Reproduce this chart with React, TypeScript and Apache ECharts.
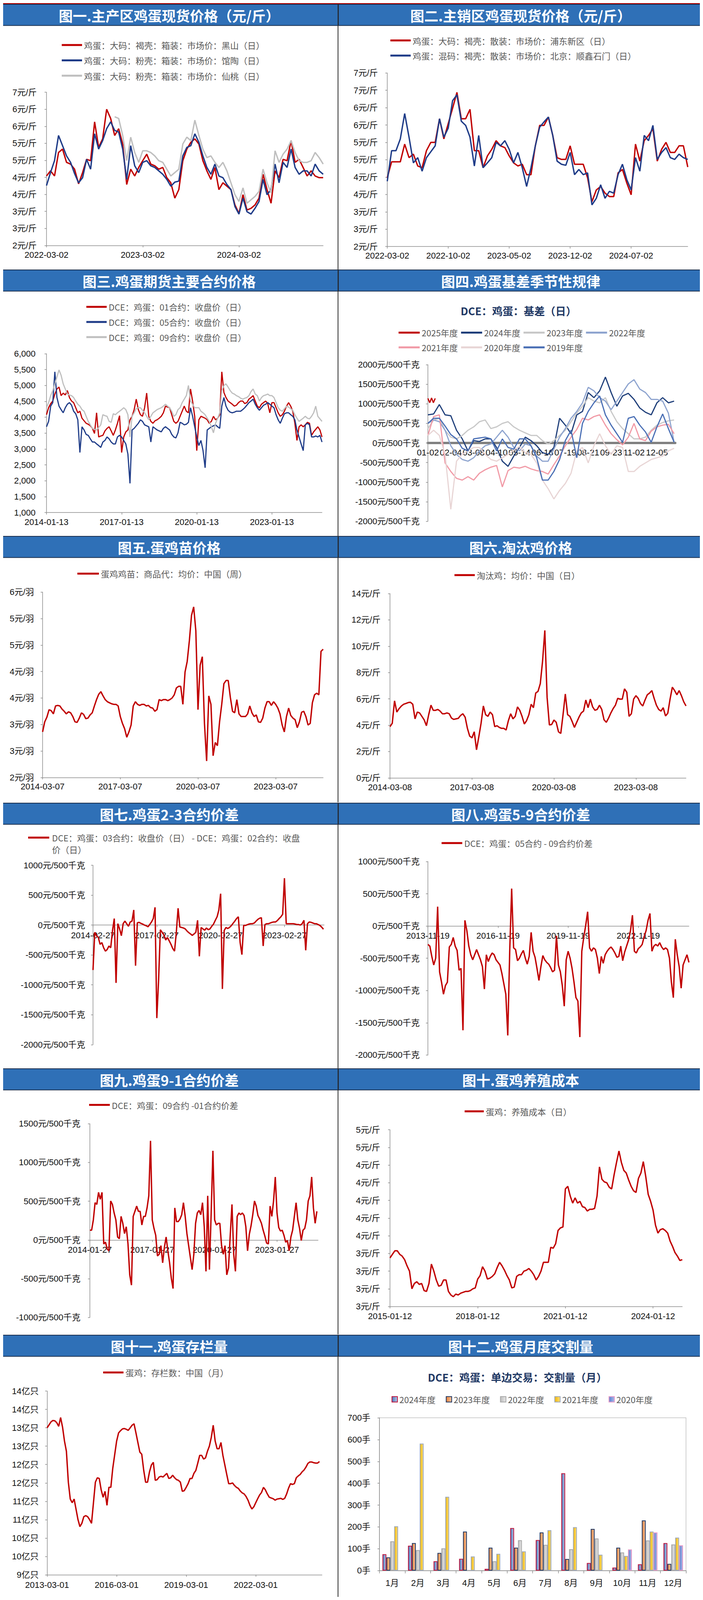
import React, { useEffect, useRef } from "react";
import * as echarts from "echarts";

const LAT = '"Liberation Sans", "Noto Sans CJK SC", sans-serif';
const CJK = '"Noto Sans CJK SC", "Noto Sans", sans-serif';

/* ================= DATA ================= */
// 图一 主产区鸡蛋现货价格 (semi-monthly, from 2022-03-02)
const p1Labels = ["2022-03-02", "2023-03-02", "2024-03-02"];
const p1Ticks = [0, 12, 24];
const p1Heishan = [4.04,4.19,4.04,4.73,4.83,4.44,4.39,4.24,3.81,4.14,4.53,4.49,5.63,4.88,5.13,6.0,5.73,5.23,5.43,4.98,3.79,4.24,4.04,4.29,4.49,4.68,4.39,4.34,4.24,4.29,3.99,3.84,3.39,3.64,4.49,4.83,5.03,5.13,4.98,4.49,4.19,3.94,4.29,3.64,3.84,3.74,3.64,3.19,2.94,3.49,3.04,3.09,3.19,3.39,4.09,3.64,3.24,4.19,3.99,4.53,4.49,5.08,4.44,4.53,4.29,4.04,4.19,4.04,3.99,3.99];
const p1Guantao = [3.76,4.14,4.49,5.23,4.93,4.63,4.44,4.11,3.84,3.99,4.53,4.24,5.28,4.83,5.08,5.43,5.63,5.38,5.33,4.83,3.94,4.93,4.34,4.14,4.44,4.49,4.34,4.29,4.19,4.09,3.94,3.74,3.86,3.89,4.63,4.88,4.93,5.28,5.03,4.63,4.29,4.09,4.39,4.04,3.99,3.79,3.64,3.14,2.92,3.39,2.99,2.92,3.09,3.29,3.94,3.49,3.64,4.39,3.84,4.44,4.29,4.83,4.29,4.09,4.19,4.19,4.04,4.39,4.19,4.09];
const p1Xiantao = [null,null,null,null,null,null,null,null,null,null,null,null,null,null,null,null,null,5.78,5.73,5.23,4.49,5.18,4.73,4.44,4.78,4.78,4.73,4.63,4.49,4.44,4.24,4.04,4.14,4.24,4.98,5.18,5.08,5.68,5.23,4.83,4.58,4.63,4.44,4.29,4.44,4.19,3.84,3.49,3.29,3.69,3.24,3.34,3.44,3.59,4.24,3.84,3.54,4.78,4.44,4.68,4.83,5.08,4.73,4.49,4.44,4.44,4.49,4.73,4.58,4.39];

// 图二 主销区鸡蛋现货价格 (semi-monthly)
const p2Labels = ["2022-03-02", "2022-10-02", "2023-05-02", "2023-12-02", "2024-07-02"];
const p2Ticks = [0, 7, 14, 21, 28];
const p2Pudong = [3.98,4.44,4.44,4.44,4.95,4.56,4.66,4.32,4.27,4.76,5.00,5.00,5.68,5.10,5.54,5.98,6.44,5.68,5.68,5.95,4.76,4.76,4.27,4.61,4.80,5.05,4.90,4.85,4.61,4.41,4.32,4.37,4.07,4.07,4.90,5.49,5.49,5.73,5.20,4.56,4.51,4.51,4.90,4.37,4.37,4.37,3.98,3.29,3.63,3.73,3.54,3.44,3.44,4.12,4.22,3.83,3.49,4.95,4.46,5.05,5.20,5.39,4.46,4.80,5.00,4.71,4.71,4.90,4.90,4.29];
const p2Beijing = [3.88,4.76,4.76,5.10,5.83,5.15,4.41,4.56,4.17,4.56,4.73,4.90,5.68,5.15,5.41,6.20,6.37,5.61,5.49,5.15,4.32,5.20,4.27,4.41,4.56,5.00,4.90,5.05,4.80,4.41,4.71,4.27,3.73,4.27,4.90,5.44,5.59,5.73,5.20,4.46,4.37,4.34,4.71,4.07,4.22,4.07,4.12,3.20,3.39,3.78,3.39,3.59,3.54,4.07,4.37,3.93,3.63,4.56,4.17,5.20,5.05,5.49,4.51,4.71,4.85,4.56,4.51,4.66,4.56,4.51];

// shared 3-year ticks (monthly data)
const yearTicks = [0, 36, 72, 108];

// 图三 鸡蛋期货主要合约价格 (monthly, from 2014-01-13)
const p3Labels = ["2014-01-13", "2017-01-13", "2020-01-13", "2023-01-13"];
const p3C01 = [4080,4300,4430,4510,4730,4890,4950,4680,4760,4700,4840,4620,4510,4460,4300,4140,4190,3970,3890,3810,3780,3730,3650,3490,4140,3380,3410,3430,3570,3650,3700,3570,3430,3600,3810,4050,2890,3380,3540,3600,3920,4030,4240,4570,4240,4080,4030,4300,4760,4030,3870,3810,3890,3920,3970,4030,4140,4350,4320,4300,4080,3870,3810,3870,4030,4190,4350,4190,4140,4890,4510,4030,2950,3920,4030,4000,3970,3920,3810,3870,4030,3920,3970,4080,5430,4780,4620,4510,4460,4410,4350,4380,4460,4510,4510,4430,4460,4570,4620,4680,4510,4350,4300,4410,4460,4510,4430,4140,4460,4460,4300,4140,4030,4080,4190,4350,4460,4350,4190,3810,3270,3700,3760,3700,3760,3840,3810,3430,3540,3620,3700,3600,3380];
const p3C05 = [3700,3870,4350,4460,5430,4620,4350,4240,4140,4300,4410,4460,4380,4190,4110,3920,2890,3700,3600,3460,3430,3320,3220,3220,3160,3110,3050,3220,3270,3380,3320,3220,3160,3160,3380,3430,3380,3270,3160,2840,1920,3600,3650,3730,3810,3920,3870,3760,3730,3700,3220,3700,3650,3600,3570,3540,3650,3700,3650,3600,3460,3380,3350,3510,3840,3810,3760,3780,3840,4300,4030,3700,3380,3110,3270,2950,2410,3600,3650,3700,3730,3760,3700,3650,4350,4620,4350,4220,4160,4140,4160,4190,4190,4190,4240,4300,4380,4460,4510,4570,4410,4300,4220,4300,4380,4410,4460,4410,4350,4300,4080,3920,3810,3970,4110,4140,4140,4080,4030,3920,3600,3380,3160,2950,3760,3810,3760,3380,3380,3410,3380,3430,3220];
const p3C09 = [4300,4460,4680,4840,5050,5270,5490,5320,5050,4890,4730,4700,4680,4620,4510,4410,4350,4240,4190,4030,3870,3760,3650,3620,3600,3680,3760,4080,4050,4030,3870,3840,4110,4080,4140,4190,4240,4300,4240,4080,3380,4030,4140,4270,4300,4300,4220,4140,4030,3920,4030,4140,4190,4240,4270,4300,4350,4410,4350,4300,4190,4030,4080,4240,4300,4460,4570,4680,5000,4510,4410,4300,4300,4300,4190,4140,4080,3970,3870,3700,3510,3810,3970,4140,4840,5000,5050,4950,4840,4760,4730,4680,4650,4600,4570,4600,4620,4680,4810,4890,4730,4680,4510,4620,4680,4700,4730,4680,4680,4620,4460,4300,4220,4190,4270,4350,4320,4270,4220,4080,3970,3870,3920,3970,4030,3970,3950,4030,4140,4350,4030,3950,3870];

// 图四 鸡蛋基差季节性 (step = 1/4 of a label interval)
const p4Labels = ["01-02","02-04","03-08","04-10","05-14","06-16","07-19","08-21","09-23","11-02","12-05"];
const p4Ticks = [0,1,2,3,4,5,6,7,8,9,10];
const p4Y2025 = [1140,1030,1150,1030,1140];
const p4Y2024 = [719,741,982,719,697,325,105,-202,61,39,105,105,-114,-465,-596,-333,-114,149,61,-70,-246,-290,-114,632,456,237,719,807,1289,1158,1333,1684,1289,939,1202,1268,1114,895,785,719,1026,1158,1026,1070];
const p4Y2023 = [368,588,632,325,149,105,193,325,412,544,588,368,412,500,544,412,325,259,193,193,61,-26,61,193,325,544,763,939,1158,1070,1026,1158,807,544,368,237,105,105,149,325,456,522,566,588];
const p4Y2022 = [500,588,544,325,-70,-290,-421,-465,-377,-202,-70,-26,149,325,149,-114,-202,-26,-70,-333,-465,-465,-158,149,368,632,807,1026,1421,1333,1158,1070,851,1070,1289,1509,1618,1377,1289,1114,1114,1070,763,18];
const p4Y2021 = [193,675,719,-509,-728,-904,-947,-860,-947,-772,-684,-618,-575,-1123,-706,-618,-640,-596,-662,-706,-728,-794,-553,-333,-70,149,347,632,588,675,719,456,237,83,-48,149,500,105,61,303,412,456,478,237];
const p4Y2020 = [193,325,193,-290,-1693,-465,-290,-202,-114,-114,-290,-421,-465,-377,-290,-180,-92,-246,-290,-509,-947,-1167,-1430,-1211,-1035,-772,-202,-114,-509,-70,237,-70,-290,-70,-114,-728,-728,-596,-509,-421,-377,-333,-202,-136];
const p4Y2019 = [500,632,632,434,215,105,-136,-202,105,127,149,105,-202,105,-114,-158,105,105,-70,-377,-947,-947,-728,-421,61,325,-377,500,807,1026,1202,719,456,237,18,632,675,456,281,18,412,741,368,18];

// 图五 蛋鸡苗价格 (monthly from 2014-03-07)
const p5Labels = ["2014-03-07", "2017-03-07", "2020-03-07", "2023-03-07"];
const p5Chick = [2.86,3.05,3.14,3.28,3.26,3.20,3.35,3.36,3.35,3.29,3.25,3.20,3.24,3.22,3.15,3.05,3.04,3.12,3.22,3.19,3.11,3.12,3.18,3.22,3.35,3.47,3.57,3.62,3.54,3.47,3.43,3.41,3.39,3.38,3.38,3.35,3.15,3.02,2.92,2.76,2.86,2.99,3.35,3.43,3.38,3.36,3.38,3.38,3.35,3.36,3.32,3.31,3.25,3.28,3.47,3.45,3.47,3.47,3.45,3.47,3.50,3.56,3.69,3.72,3.72,3.38,3.99,4.19,4.58,5.06,5.22,4.77,3.28,4.12,4.28,3.02,2.31,3.54,3.38,2.41,2.66,2.60,3.05,3.38,3.77,3.83,3.83,3.51,3.25,3.22,3.47,3.20,3.15,3.15,3.15,3.20,3.35,3.22,3.15,3.18,3.05,3.04,3.12,3.31,3.43,3.43,3.36,3.43,3.38,3.31,3.20,2.99,2.86,3.15,3.31,3.17,3.12,3.09,2.94,3.05,3.23,3.25,3.15,2.99,3.02,3.41,3.56,3.59,3.56,4.38,4.42];

// 图六 淘汰鸡价格 (monthly from 2014-03-08)
const p6Labels = ["2014-03-08", "2017-03-08", "2020-03-08", "2023-03-08"];
const p6Hen = [3.89,4.15,5.85,5.00,5.26,5.46,5.59,5.65,5.72,5.74,5.59,4.48,5.00,4.93,4.67,4.41,3.96,4.80,5.52,5.13,5.13,5.20,5.07,4.87,4.87,4.93,4.87,4.54,4.44,4.48,4.52,4.74,4.87,4.61,3.76,3.17,3.04,3.50,2.13,3.11,4.15,5.46,4.80,4.67,5.00,4.80,3.89,3.96,3.83,3.76,3.76,3.63,4.35,4.87,4.48,4.67,5.39,5.13,4.67,4.09,4.35,4.80,5.59,5.33,6.44,6.57,7.15,8.85,11.2,6.11,4.02,4.05,4.39,4.22,3.50,3.37,4.80,6.37,4.80,4.67,4.28,3.83,4.22,4.61,4.93,5.07,5.91,5.33,5.98,5.39,5.13,5.20,5.52,5.20,4.41,4.22,4.54,4.93,5.26,5.52,6.04,5.98,5.98,6.76,6.50,4.67,4.87,5.98,6.24,6.04,5.65,5.46,5.91,6.31,6.44,6.63,6.04,5.52,5.20,5.07,5.33,4.70,4.91,5.98,6.89,6.63,6.31,6.63,6.24,5.78,5.46];

// 图七 鸡蛋2-3合约价差 (monthly from 2014-02-27)
const p7Labels = ["2014-02-27", "2017-02-27", "2020-02-27", "2023-02-27"];
const p7Spread = [-752,-121,-178,-207,-322,-293,-379,-436,-408,-350,-379,-92,109,-968,23,-63,-178,23,66,23,-20,52,66,253,-680,37,46,29,17,0,-11,-29,9,52,109,296,-1556,-924,-78,-121,-164,-250,-207,-264,-322,-393,-436,-121,281,-34,-40,-49,-63,-98,-126,-149,-172,-149,-121,80,-523,-40,-63,-86,-49,-78,-63,-20,17,80,138,253,525,-1068,-92,-40,-57,-40,-11,29,66,109,138,-293,-494,-6,-6,6,17,23,23,34,66,95,115,123,-350,9,23,23,34,46,52,52,75,109,138,181,784,23,23,23,23,23,17,9,9,0,23,80,-422,23,52,46,34,23,23,9,-6,-34,-69];

// 图八 鸡蛋5-9合约价差 (monthly from 2013-11-19)
const p8Labels = ["2013-11-19", "2016-11-19", "2019-11-19", "2022-11-19"];
const p8Spread = [-285,-311,-471,-604,-498,300,-711,-870,-1057,-924,-870,-325,-285,-178,-311,-378,-684,-657,-1616,88,-72,-311,-445,-524,-445,-365,-445,-524,-631,-977,-445,-551,-471,-418,-445,-524,-564,-604,-737,-897,-1057,-1696,-391,580,-338,-365,-538,-498,-431,-378,-498,-591,-471,-98,-391,-484,-657,-844,-631,-458,-524,-564,-591,-644,-711,-684,-152,-604,-711,-924,-1243,-524,-391,-498,-657,-870,-1110,-1163,-1722,-391,-178,8,221,-338,-391,-338,-365,-498,-737,-471,-578,-445,-391,-351,-325,-365,-418,-484,-471,-311,-538,-405,-311,-218,-72,168,-391,-418,-351,-325,-285,-165,-72,88,194,-391,-311,-285,-311,-258,-325,-365,-338,-365,-498,-870,-1110,-205,-445,-631,-964,-604,-524,-445,-564];

// 图九 鸡蛋9-1合约价差 (monthly from 2014-01-27)
const p9Labels = ["2014-01-27", "2017-01-27", "2020-01-27", "2023-01-27"];
const p9Spread = [126,126,259,481,459,614,525,614,-51,-29,-117,-140,503,459,348,259,38,16,304,215,82,171,-51,-450,-583,304,370,437,370,370,193,304,304,414,570,1279,259,149,60,-206,-184,-73,-295,-95,38,-140,-295,-494,-627,414,237,237,270,326,481,304,82,-73,-228,-383,-184,215,348,381,326,481,171,-405,570,-383,348,1150,259,193,215,215,-73,-184,-73,-450,-361,60,459,-184,-405,304,348,326,348,315,171,-140,71,182,326,503,437,315,270,215,126,49,-40,-51,437,304,503,813,348,160,115,126,60,-29,-7,-140,38,126,304,481,259,149,-7,126,149,259,503,570,813,414,215,370];

// 图十 蛋鸡养殖成本 (monthly from 2015-01-12)
const p10Labels = ["2015-01-12", "2018-01-12", "2021-01-12", "2024-01-12"];
const p10Cost = [3.25,3.29,3.33,3.33,3.29,3.27,3.23,3.16,3.10,2.90,2.96,2.98,2.95,2.96,2.88,2.87,2.96,3.18,3.10,3.00,2.93,2.94,3.00,3.00,2.87,2.83,2.81,2.84,2.83,2.85,2.86,2.87,2.87,2.88,2.90,2.91,3.01,3.05,3.15,3.10,3.01,3.02,3.04,3.07,3.14,3.20,3.16,3.11,3.05,3.00,2.91,2.92,3.04,3.06,3.06,3.10,3.11,3.13,3.10,3.06,3.00,3.04,3.10,3.20,3.20,3.20,3.37,3.36,3.41,3.56,3.59,3.60,4.03,4.06,3.95,3.87,3.93,3.87,3.89,3.83,3.82,3.78,3.80,3.80,3.81,3.95,4.28,4.14,4.11,4.10,4.05,4.03,4.19,4.33,4.46,4.33,4.24,4.21,4.13,4.06,4.01,3.99,4.15,4.21,4.34,4.17,3.97,3.89,3.79,3.62,3.53,3.57,3.58,3.56,3.53,3.44,3.38,3.31,3.27,3.22,3.23];

// 图十一 鸡蛋存栏量 (monthly from 2013-03-01)
const p11Labels = ["2013-03-01", "2016-03-01", "2019-03-01", "2022-03-01"];
const p11Stock = [13.00,13.08,13.16,13.20,13.19,13.14,13.04,13.28,13.02,12.64,12.36,11.52,11.06,10.96,11.06,10.78,10.50,10.31,10.40,10.58,10.61,10.58,10.50,10.40,10.96,11.52,11.64,11.62,11.31,11.11,11.27,10.89,11.38,11.38,11.90,12.27,12.64,12.86,12.92,12.97,12.98,12.96,12.93,13.00,13.07,13.11,12.86,12.60,12.34,12.28,11.85,11.52,11.52,11.80,11.99,12.06,11.57,11.59,11.66,11.68,11.66,11.71,11.76,11.62,11.64,11.71,11.64,11.59,11.57,11.52,11.27,11.29,11.38,11.48,11.62,11.62,11.76,11.84,12.04,12.25,12.25,12.15,12.18,12.36,12.50,12.74,13.07,12.64,12.43,12.43,12.60,12.25,11.99,11.73,11.48,11.48,11.50,11.43,11.38,11.35,11.28,11.23,11.20,11.13,11.03,10.89,10.79,10.85,10.96,11.07,11.17,11.24,11.38,11.31,11.20,11.11,11.09,11.07,11.03,11.06,11.07,11.08,11.05,11.08,11.20,11.36,11.48,11.46,11.48,11.64,11.69,11.73,11.80,11.85,11.93,12.03,12.07,12.07,12.05,12.04,12.04,12.08];

// 图十二 鸡蛋月度交割量
const p12Months = ["1月","2月","3月","4月","5月","6月","7月","8月","9月","10月","11月","12月"];
const p12Y2024 = [75,114,43,54,8,195,140,446,35,14,29,126];
const p12Y2023 = [61,126,81,179,105,105,175,53,191,105,230,31];
const p12Y2022 = [134,94,102,2,43,139,118,98,147,83,138,120];
const p12Y2021 = [203,582,338,65,77,88,185,199,73,67,179,151];
const p12Y2020 = [null,null,null,null,null,null,null,null,null,97,175,116];

/* ================= HELPERS ================= */
// vertical fit: if the visible viewport is shorter than the design height, compress vertical positions
const DESIGN_H = 4220;
const VIEW_H = typeof window !== "undefined" && window.innerHeight ? window.innerHeight : DESIGN_H;
const SY = Math.min(1, VIEW_H / DESIGN_H);
const Y = (v: number) => v * SY;

const AX = "#8C8C8C";
const LEG_TXT = { fontSize: 22, color: "#595959", fontFamily: CJK, lineHeight: 22 };
const LW = 3.5;

function vline(x: number, h: number) {
  return { type: "line", silent: true, shape: { x1: x, y1: 0, x2: x, y2: h }, style: { stroke: "#2a2a2a", lineWidth: 2 } };
}

function frame(w: number, h: number, title: string, isLeft: boolean) {
  const g: any[] = [
    { type: "rect", silent: true, shape: { x: 0, y: 1, width: w, height: Y(56) }, style: { fill: "#2F70B7", stroke: "#1B2F4E", lineWidth: 2 } },
    { type: "text", silent: true, x: w / 2, y: Y(30), style: { text: title, fill: "#ffffff", font: `bold 36px ${CJK}`, textAlign: "center", textVerticalAlign: "middle" } },
  ];
  if (isLeft) { g.push(vline(1, h)); g.push(vline(w - 1, h)); }
  else { g.push(vline(w - 2, h)); }
  return g;
}

function vLegend(names: string[], left: number, top: number, gap: number, itemWidth: number) {
  const pitch = Y(22 + gap);
  return { show: true, orient: "vertical", left, top: Y(top), padding: 0, itemGap: pitch - 22, itemWidth, itemHeight: 5, icon: "rect", selectedMode: false, data: names, textStyle: LEG_TXT };
}

function toPts(data: (number | null)[], step: number) {
  const out: number[][] = [];
  data.forEach((v, i) => { if (v !== null) out.push([+(i * step).toFixed(4), v]); });
  return out;
}

function linePanel(c: any) {
  const zw = c.zeroWidth || 1.5;
  const zc = c.zeroColor || AX;
  const gTop = Y(c.grid[1]);
  const gH = Y(c.grid[3]);
  // when the value range crosses zero, lift the x axis (line + labels) up to y = 0
  const crosses = c.y[0] < 0 && c.y[1] > 0;
  const lift = crosses ? (gH * (0 - c.y[0])) / (c.y[1] - c.y[0]) : 0;
  return {
    animation: false,
    textStyle: { fontFamily: LAT },
    graphic: { elements: [...frame(c.w, c.h, c.title, c.isLeft), ...(c.extra || [])] },
    legend: c.legend || [],
    grid: { left: c.grid[0], top: gTop, right: c.grid[2], height: gH, containLabel: false, outerBoundsMode: "none" },
    xAxis: {
      type: "value", min: 0, max: c.xMax, interval: c.ticks[1] - c.ticks[0],
      position: "bottom", offset: -lift,
      axisLine: { show: true, onZero: false, lineStyle: { color: zc, width: zw } },
      axisTick: { show: c.xTick !== false, customValues: c.ticks, length: 5, lineStyle: { color: AX, width: 1.5 } },
      axisLabel: {
        customValues: c.ticks, fontSize: 22, color: "#111", margin: c.xm, fontFamily: LAT,
        formatter: (v: number) => { const i = c.ticks.findIndex((t: number) => Math.abs(t - v) < 1e-6); return i >= 0 ? c.labels[i] : ""; },
      },
      splitLine: { show: false },
    },
    yAxis: {
      type: "value", min: c.y[0], max: c.y[1], interval: c.y[2],
      axisLine: { show: true, onZero: false, lineStyle: { color: AX, width: 1.5 } },
      axisTick: { show: true, length: 5, lineStyle: { color: AX, width: 1.5 } },
      axisLabel: { formatter: c.yf, fontSize: 22, color: "#111", margin: c.ym, fontFamily: LAT },
      splitLine: { show: false },
    },
    series: c.series.map((s: any) => ({
      type: "line", name: s.name, data: toPts(s.data, s.step), showSymbol: false, symbol: "none",
      lineStyle: { color: s.color, width: s.width || LW }, itemStyle: { color: s.color }, silent: true,
      emphasis: { disabled: true },
    })),
  };
}

const W_L = 866, W_R = 933;
const ROW = [10, 711, 1414, 2117, 2818, 3520].map(Y);
const ROWH = [701, 703, 703, 701, 702, 700].map(Y);
const RED = "#C00000", NAVY = "#1F3C88", GRAY = "#BFBFBF";
const thousands = (v: number) => String(v).replace(/\B(?=(\d{3})+(?!\d))/g, ",");

/* ================= PANELS ================= */
const n1 = ["鸡蛋：大码：褐壳：箱装：市场价：黑山（日）", "鸡蛋：大码：粉壳：箱装：市场价：馆陶（日）", "鸡蛋：大码：粉壳：箱装：市场价：仙桃（日）"];
const opt1 = linePanel({
  w: W_L, h: ROWH[0], title: "图一.主产区鸡蛋现货价格（元/斤）", isLeft: true,
  grid: [119, 233, 39, 404], xMax: 34.5, ticks: p1Ticks, labels: p1Labels, xm: 13,
  y: [2, 6.5, 0.5], yf: (v: number) => Math.round(v) + "元/斤", ym: 25,
  legend: [vLegend(n1, 158, 97, 18.5, 52)],
  series: [
    { name: n1[0], data: p1Heishan, step: 0.5, color: RED },
    { name: n1[1], data: p1Guantao, step: 0.5, color: NAVY },
    { name: n1[2], data: p1Xiantao, step: 0.5, color: GRAY },
  ],
});

const n2 = ["鸡蛋：大码：褐壳：散装：市场价：浦东新区（日）", "鸡蛋：混码：褐壳：散装：市场价：北京：顺鑫石门（日）"];
const opt2 = linePanel({
  w: W_R, h: ROWH[0], title: "图二.主销区鸡蛋现货价格（元/斤）", isLeft: false,
  grid: [125, 182, 39, 458], xMax: 34.5, ticks: p2Ticks, labels: p2Labels, xm: 12,
  y: [2, 7, 0.5], yf: (v: number) => Math.round(v) + "元/斤", ym: 24,
  legend: [vLegend(n2, 133, 85, 18, 52)],
  series: [
    { name: n2[0], data: p2Pudong, step: 0.5, color: RED },
    { name: n2[1], data: p2Beijing, step: 0.5, color: NAVY },
  ],
});

const n3 = ["DCE：鸡蛋：01合约：收盘价（日）", "DCE：鸡蛋：05合约：收盘价（日）", "DCE：鸡蛋：09合约：收盘价（日）"];
const opt3 = linePanel({
  w: W_L, h: ROWH[1], title: "图三.鸡蛋期货主要合约价格", isLeft: true,
  grid: [119, 222, 42, 419], xMax: 132, ticks: yearTicks, labels: p3Labels, xm: 13,
  y: [1000, 6000, 500], yf: thousands, ym: 28,
  legend: [vLegend(n3, 221, 87, 18, 52)],
  series: [
    { name: n3[0], data: p3C01, step: 1, color: RED, width: 3 },
    { name: n3[1], data: p3C05, step: 1, color: NAVY, width: 3 },
    { name: n3[2], data: p3C09, step: 1, color: GRAY, width: 3 },
  ],
});

const c4 = ["#C00000", "#1F3F7A", "#C8C8C8", "#8EA4CF", "#F19AA6", "#E8D5D5", "#4A6FB5"];
const n4 = ["2025年度", "2024年度", "2023年度", "2022年度", "2021年度", "2020年度", "2019年度"];
const hLeg = (names: string[], top: number) => ({ show: true, orient: "horizontal", left: 154, top: Y(top), padding: 0, itemGap: 8, itemWidth: 54, itemHeight: 5, icon: "rect", selectedMode: false, data: names, textStyle: LEG_TXT });
const opt4 = linePanel({
  w: W_R, h: ROWH[1], title: "图四.鸡蛋基差季节性规律", isLeft: false,
  grid: [229, 251, 71, 413], xMax: 10.8, ticks: p4Ticks, labels: p4Labels, xm: 13, xTick: false,
  zeroWidth: 6, zeroColor: "#808080",
  y: [-2000, 2000, 500], yf: (v: number) => v + "元/500千克", ym: 21,
  legend: [hLeg(n4.slice(0, 4), 155), hLeg(n4.slice(4), 194)],
  extra: [{ type: "text", silent: true, x: 461, y: Y(109), style: { text: "DCE：鸡蛋：基差（日）", fill: "#1F3864", font: `bold 27px ${CJK}`, textAlign: "center", textVerticalAlign: "middle" } }],
  series: [
    { name: n4[0], data: p4Y2025, step: 0.08, color: c4[0], width: 3 },
    { name: n4[1], data: p4Y2024, step: 0.25, color: c4[1], width: 3 },
    { name: n4[2], data: p4Y2023, step: 0.25, color: c4[2], width: 3 },
    { name: n4[3], data: p4Y2022, step: 0.25, color: c4[3], width: 3 },
    { name: n4[4], data: p4Y2021, step: 0.25, color: c4[4], width: 3 },
    { name: n4[5], data: p4Y2020, step: 0.25, color: c4[5], width: 3 },
    { name: n4[6], data: p4Y2019, step: 0.25, color: c4[6], width: 3 },
  ],
});

const n5 = "蛋鸡鸡苗：商品代：均价：中国（周）";
const opt5 = linePanel({
  w: W_L, h: ROWH[2], title: "图五.蛋鸡苗价格", isLeft: true,
  grid: [109, 148, 39, 489], xMax: 130, ticks: yearTicks, labels: p5Labels, xm: 12,
  y: [2, 5.5, 0.5], yf: (v: number) => Math.round(v) + "元/羽", ym: 22,
  legend: [vLegend([n5], 198, 88, 18, 55)],
  series: [{ name: n5, data: p5Chick, step: 1, color: RED }],
});

const n6 = "淘汰鸡：均价：中国（日）";
const opt6 = linePanel({
  w: W_R, h: ROWH[2], title: "图六.淘汰鸡价格", isLeft: false,
  grid: [132, 152, 43.5, 486], xMax: 130, ticks: yearTicks, labels: p6Labels, xm: 13,
  y: [0, 14, 2], yf: (v: number) => v + "元/斤", ym: 24,
  legend: [vLegend([n6], 297, 92, 18, 52)],
  series: [{ name: n6, data: p6Hen, step: 1, color: RED }],
});

const n7a = "DCE：鸡蛋：03合约：收盘价（日） - DCE：鸡蛋：02合约：收盘";
const n7b = "价（日）";
const opt7 = linePanel({
  w: W_L, h: ROWH[3], title: "图七.鸡蛋2-3合约价差", isLeft: true,
  grid: [238, 165, 36.5, 473], xMax: 130.4, ticks: yearTicks, labels: p7Labels, xm: 15,
  y: [-2000, 1000, 500], yf: (v: number) => v + "元/500千克", ym: 20,
  extra: [
    { type: "rect", silent: true, shape: { x: 72, y: Y(92) - 2.5, width: 54, height: 5 }, style: { fill: RED } },
    { type: "text", silent: true, x: 133, y: Y(92), style: { text: n7a, fill: "#595959", font: `22px ${CJK}`, textVerticalAlign: "middle" } },
    { type: "text", silent: true, x: 133, y: Y(123), style: { text: n7b, fill: "#595959", font: `22px ${CJK}`, textVerticalAlign: "middle" } },
  ],
  series: [{ name: n7a + n7b, data: p7Spread, step: 1, color: RED }],
});

const n8 = "DCE：鸡蛋：05合约 - 09合约价差";
const opt8 = linePanel({
  w: W_R, h: ROWH[3], title: "图八.鸡蛋5-9合约价差", isLeft: false,
  grid: [229, 155, 36, 510.5], xMax: 134, ticks: yearTicks, labels: p8Labels, xm: 14,
  y: [-2000, 1000, 500], yf: (v: number) => v + "元/500千克", ym: 21,
  legend: [vLegend([n8], 264, 95, 18, 53)],
  series: [{ name: n8, data: p8Spread, step: 1, color: RED }],
});

const n9 = "DCE：鸡蛋：09合约 -01合约价差";
const opt9 = linePanel({
  w: W_L, h: ROWH[4], title: "图九.鸡蛋9-1合约价差", isLeft: true,
  grid: [230, 146, 52, 511], xMax: 131.7, ticks: yearTicks, labels: p9Labels, xm: 14,
  y: [-1000, 1500, 500], yf: (v: number) => v + "元/500千克", ym: 24,
  legend: [vLegend([n9], 228, 85, 18, 53)],
  series: [{ name: n9, data: p9Spread, step: 1, color: RED }],
});

const n10 = "蛋鸡：养殖成本（日）";
const opt10 = linePanel({
  w: W_R, h: ROWH[4], title: "图十.蛋鸡养殖成本", isLeft: false,
  grid: [132, 162, 53, 466], xMax: 120, ticks: yearTicks, labels: p10Labels, xm: 14,
  y: [2.7, 4.7, 0.2], yf: (v: number) => Math.round(v) + "元/斤", ym: 25,
  legend: [vLegend([n10], 323, 102, 18, 49)],
  series: [{ name: n10, data: p10Cost, step: 1, color: RED }],
});

const n11 = "蛋鸡：存栏数：中国（月）";
const opt11 = linePanel({
  w: W_L, h: ROWH[5], title: "图十一.鸡蛋存栏量", isLeft: true,
  grid: [120.5, 148.5, 42, 484.5], xMax: 142.3, ticks: yearTicks, labels: p11Labels, xm: 15,
  y: [9, 14, 0.5], yf: (v: number) => Math.round(v) + "亿只", ym: 21.5,
  legend: [vLegend([n11], 264, 88, 18, 52)],
  series: [{ name: n11, data: p11Stock, step: 1, color: RED }],
});

const grad = (a: string, b: string) => ({ type: "linear", x: 0, y: 0, x2: 1, y2: 0, colorStops: [{ offset: 0, color: a }, { offset: 1, color: b }] });
const bar12 = [
  { name: "2024年度", data: p12Y2024, fill: grad("#4A76BB", "#B4C9E8"), border: "#C0143C" },
  { name: "2023年度", data: p12Y2023, fill: grad("#E8823A", "#F7C59F"), border: "#1F3864" },
  { name: "2022年度", data: p12Y2022, fill: grad("#BDBDBD", "#E8E8E8"), border: "#A6A6A6" },
  { name: "2021年度", data: p12Y2021, fill: grad("#F2B705", "#FFE07A"), border: "#9DA9BC" },
  { name: "2020年度", data: p12Y2020, fill: grad("#5B7FD0", "#A8B9E8"), border: "#E89AC7" },
];
const opt12 = {
  animation: false,
  textStyle: { fontFamily: LAT },
  graphic: {
    elements: [
      ...frame(W_R, ROWH[5], "图十二.鸡蛋月度交割量", false),
      { type: "text", silent: true, x: 458, y: Y(112), style: { text: "DCE：鸡蛋：单边交易：交割量（月）", fill: "#1F3864", font: `bold 27px ${CJK}`, textAlign: "center", textVerticalAlign: "middle" } },
    ],
  },
  legend: [{ show: true, left: 136, top: Y(159), padding: 0, itemWidth: 14, itemHeight: 14, itemGap: 26, icon: "rect", selectedMode: false, data: bar12.map((b) => b.name), textStyle: LEG_TXT }],
  grid: { left: 105, top: Y(219), right: 43.5, height: Y(403), show: true, borderColor: "#BFBFBF", borderWidth: 1.5, backgroundColor: "rgba(0,0,0,0)", containLabel: false, outerBoundsMode: "none" },
  xAxis: {
    type: "category", data: p12Months, boundaryGap: true,
    axisLine: { show: true, lineStyle: { color: AX, width: 1.5 } },
    axisTick: { show: true, length: 7, lineStyle: { color: AX, width: 1.5 } },
    axisLabel: { fontSize: 22, color: "#111", margin: 21, interval: 0 },
    splitLine: { show: false },
  },
  yAxis: {
    type: "value", min: 0, max: 700, interval: 100,
    axisLine: { show: true, lineStyle: { color: AX, width: 1.5 } },
    axisTick: { show: true, length: 5, lineStyle: { color: AX, width: 1.5 } },
    axisLabel: { formatter: (v: number) => v + "手", fontSize: 22, color: "#111", margin: 23 },
    splitLine: { show: false },
  },
  series: bar12.map((b) => ({
    type: "bar", name: b.name, data: b.data, barWidth: 10, barGap: "0%", silent: true,
    itemStyle: { color: b.fill, borderColor: b.border, borderWidth: 2 },
    emphasis: { disabled: true },
  })),
};

const PANELS = [
  { left: 0, top: ROW[0], w: W_L, h: ROWH[0], opt: opt1 },
  { left: W_L, top: ROW[0], w: W_R, h: ROWH[0], opt: opt2 },
  { left: 0, top: ROW[1], w: W_L, h: ROWH[1], opt: opt3 },
  { left: W_L, top: ROW[1], w: W_R, h: ROWH[1], opt: opt4 },
  { left: 0, top: ROW[2], w: W_L, h: ROWH[2], opt: opt5 },
  { left: W_L, top: ROW[2], w: W_R, h: ROWH[2], opt: opt6 },
  { left: 0, top: ROW[3], w: W_L, h: ROWH[3], opt: opt7 },
  { left: W_L, top: ROW[3], w: W_R, h: ROWH[3], opt: opt8 },
  { left: 0, top: ROW[4], w: W_L, h: ROWH[4], opt: opt9 },
  { left: W_L, top: ROW[4], w: W_R, h: ROWH[4], opt: opt10 },
  { left: 0, top: ROW[5], w: W_L, h: ROWH[5], opt: opt11 },
  { left: W_L, top: ROW[5], w: W_R, h: ROWH[5], opt: opt12 },
];

function Chart(props: { left: number; top: number; w: number; h: number; opt: any }) {
  const ref = useRef<HTMLDivElement>(null);
  useEffect(() => {
    const chart = echarts.init(ref.current as HTMLDivElement, undefined, { renderer: "svg" });
    chart.setOption(props.opt);
    return () => chart.dispose();
  }, []);
  return <div ref={ref} style={{ position: "absolute", left: props.left, top: props.top, width: props.w, height: props.h }} />;
}

export default function App() {
  const H = DESIGN_H * SY;
  return (
    <div style={{ position: "relative", width: 1799, height: H, margin: "-8px 0 -8px -8px", background: "#ffffff", overflow: "hidden" }}>
      <div style={{ position: "absolute", left: 0, top: 0, width: 1799, height: Y(10), background: "#C00000" }} />
      {PANELS.map((p, i) => (
        <Chart key={i} left={p.left} top={p.top} w={p.w} h={p.h} opt={p.opt} />
      ))}
    </div>
  );
}
